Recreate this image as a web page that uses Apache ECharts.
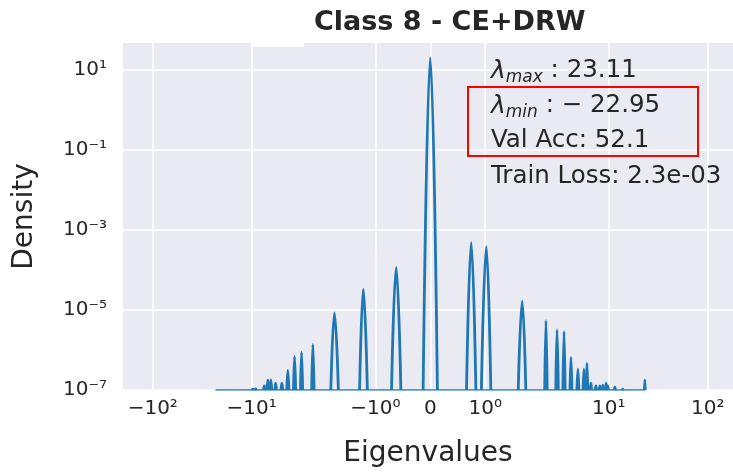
<!DOCTYPE html>
<html>
<head>
<meta charset="utf-8">
<script src="https://cdn.jsdelivr.net/npm/echarts@6/dist/echarts.min.js"></script>
<style>
  html, body { margin: 0; padding: 0; background: #fff; }
  #chart { width: 733px; height: 473px; }
</style>
</head>
<body>
<div id="chart"></div>
<script>
// eigenvalue spectrum peaks
const peakCenters = [-9.8, -9.3, -7.9, -7.4, -7.0, -6.4, -5.7, -5.1, -4.5, -3.95, -3.2, -2.14, -1.25, -0.62,
    0.0, 0.745, 1.02, 1.99, 3.1, 3.81, 4.34, 4.94, 5.62, 6.29, 6.65, 7.16, 7.86, 8.46, 8.95, 9.5, 9.8, 11.5, 13.8, 23.11]
const peakDensity = [1.05e-7, 1.07e-7, 1.26e-7, 1.78e-7, 1.78e-7, 1.48e-7, 1.48e-7, 3.1e-7, 6.9e-7, 8.7e-7, 1.38e-6, 8.5e-6, 3.3e-5, 1.15e-4,
    20, 4.8e-4, 3.8e-4, 1.66e-5, 5.4e-6, 3.2e-6, 2.9e-6, 6.5e-7, 3.3e-7, 3.3e-7, 4.7e-7, 1.48e-7, 1.26e-7, 1.26e-7, 1.32e-7, 1.48e-7, 1.26e-7, 1.17e-7, 1.05e-7, 1.78e-7]
// half width of each peak where it meets the floor
const peakHalfWidth = [0.15, 0.15, 0.12, 0.12, 0.12, 0.1, 0.1, 0.1, 0.09, 0.08, 0.07, 0.15, 0.09, 0.085,
    0.13, 0.085, 0.09, 0.14, 0.07, 0.09, 0.09, 0.09, 0.1, 0.1, 0.1, 0.1, 0.1, 0.1, 0.1, 0.1, 0.1, 0.15, 0.15, 0.2]
const kdeRange = [-23.3, 23.4]
const densityFloor = 1e-7

const xTicks = [-100, -10, -1, 0, 1, 10, 100]
const yTicks = [1e-7, 1e-5, 1e-3, 1e-1, 10]
const xLimits = [-200, 180]
const yLimits = [1e-7, 46.8]

const textColor = '#262626'
const lineColor = '#1f77b4'

// symmetric log x scale (linear in [-1, 1])
function symlog(v) {
    let a = Math.abs(v), s = v < 0 ? -1 : 1
    if (a <= 1) return v
    let d = Math.log10(a)
    if (d <= 1) return s * (1 + 2.25 * d)
    return s * (1 + 2.25 + 1.8 * (d - 1))
}

const supDigits = {'0': '⁰', '1': '¹', '2': '²', '3': '³', '4': '⁴', '5': '⁵', '6': '⁶', '7': '⁷', '8': '⁸', '9': '⁹', '-': '⁻'}
function sup(n) {
    return String(n).split('').map(c => supDigits[c]).join('')
}
function xTickLabel(v) {
    if (v === 0) return '0'
    return (v < 0 ? '−' : '') + '10' + sup(Math.round(Math.log10(Math.abs(v))))
}
function yTickLabel(v) {
    return '10' + sup(Math.round(Math.log10(v)))
}

const xTickPos = xTicks.map(symlog)

let series = [{
    type: 'line',
    data: kdeRange.map(v => [symlog(v), densityFloor]),
    showSymbol: false,
    lineStyle: {color: lineColor, width: 1.5},
    silent: true
}]
peakCenters.forEach((c, i) => {
    let w = peakHalfWidth[i]
    series.push({
        type: 'line',
        smooth: 0.45,
        showSymbol: false,
        silent: true,
        lineStyle: {color: lineColor, width: 2.8},
        data: [[symlog(c - w), densityFloor], [symlog(c), peakDensity[i]], [symlog(c + w), densityFloor]]
    })
})

const font = 'DejaVu Sans'
const annot = {
    l: {fontFamily: font, fontSize: 25, fontStyle: 'italic', lineHeight: 30, fill: textColor, verticalAlign: 'middle'},
    s: {fontFamily: font, fontSize: 17, fontStyle: 'italic', lineHeight: 17, fill: textColor, verticalAlign: 'bottom'},
    t: {fontFamily: font, fontSize: 24.5, lineHeight: 30, fill: textColor, verticalAlign: 'middle'}
}

let option = {
    animation: false,
    grid: {
        left: 123, right: 0, top: 43, bottom: 78,
        show: true,
        backgroundColor: '#EAEAF2',
        borderWidth: 0
    },
    title: {
        text: 'Class 8 - CE+DRW',
        left: 309,
        top: 4,
        textStyle: {fontFamily: font, fontSize: 27, fontWeight: 'bold', color: textColor}
    },
    xAxis: {
        type: 'value',
        min: symlog(xLimits[0]),
        max: symlog(xLimits[1]),
        name: 'Eigenvalues',
        nameLocation: 'middle',
        nameGap: 50,
        nameTextStyle: {fontFamily: font, fontSize: 28, color: textColor},
        axisLine: {show: false},
        axisTick: {show: false, customValues: xTickPos},
        axisLabel: {
            customValues: xTickPos,
            margin: 9,
            fontFamily: font, fontSize: 20, color: textColor,
            formatter: v => {
                let i = xTickPos.findIndex(p => Math.abs(p - v) < 1e-6)
                return i >= 0 ? xTickLabel(xTicks[i]) : ''
            }
        },
        splitLine: {show: true, lineStyle: {color: '#fff', width: 1.5}}
    },
    yAxis: {
        type: 'log',
        logBase: 10,
        min: yLimits[0],
        max: yLimits[1],
        name: 'Density',
        nameLocation: 'middle',
        nameGap: 84,
        nameTextStyle: {fontFamily: font, fontSize: 28, color: textColor},
        axisLine: {show: false},
        axisTick: {show: false, customValues: yTicks},
        axisLabel: {
            customValues: yTicks,
            margin: 16,
            fontFamily: font, fontSize: 20, color: textColor,
            formatter: v => yTickLabel(v)
        },
        splitLine: {show: true, lineStyle: {color: '#fff', width: 1.5}},
        minorSplitLine: {show: false}
    },
    graphic: [
        {type: 'rect', shape: {x: 252, y: 40, width: 52, height: 7}, style: {fill: '#fff'}, z: 10},
        {
            type: 'text', x: 491, y: 56, z: 10,
            style: {text: '{l|λ}{s|max}{t| : 23.11}', rich: annot}
        },
        {
            type: 'text', x: 491, y: 91, z: 10,
            style: {text: '{l|λ}{s|min}{t| : − 22.95}', rich: annot}
        },
        {
            type: 'text', x: 491, y: 128, z: 10,
            style: {text: 'Val Acc: 52.1', fontFamily: font, fontSize: 24.5, fill: textColor}
        },
        {
            type: 'text', x: 491, y: 164, z: 10,
            style: {text: 'Train Loss: 2.3e-03', fontFamily: font, fontSize: 24.5, fill: textColor}
        },
        {
            type: 'rect', z: 10,
            shape: {x: 468, y: 87, width: 230, height: 69},
            style: {fill: 'none', stroke: '#ff0000', lineWidth: 2}
        }
    ],
    series: series
}

let myChart = echarts.init(document.getElementById('chart'))
myChart.setOption(option)
</script>
</body>
</html>
